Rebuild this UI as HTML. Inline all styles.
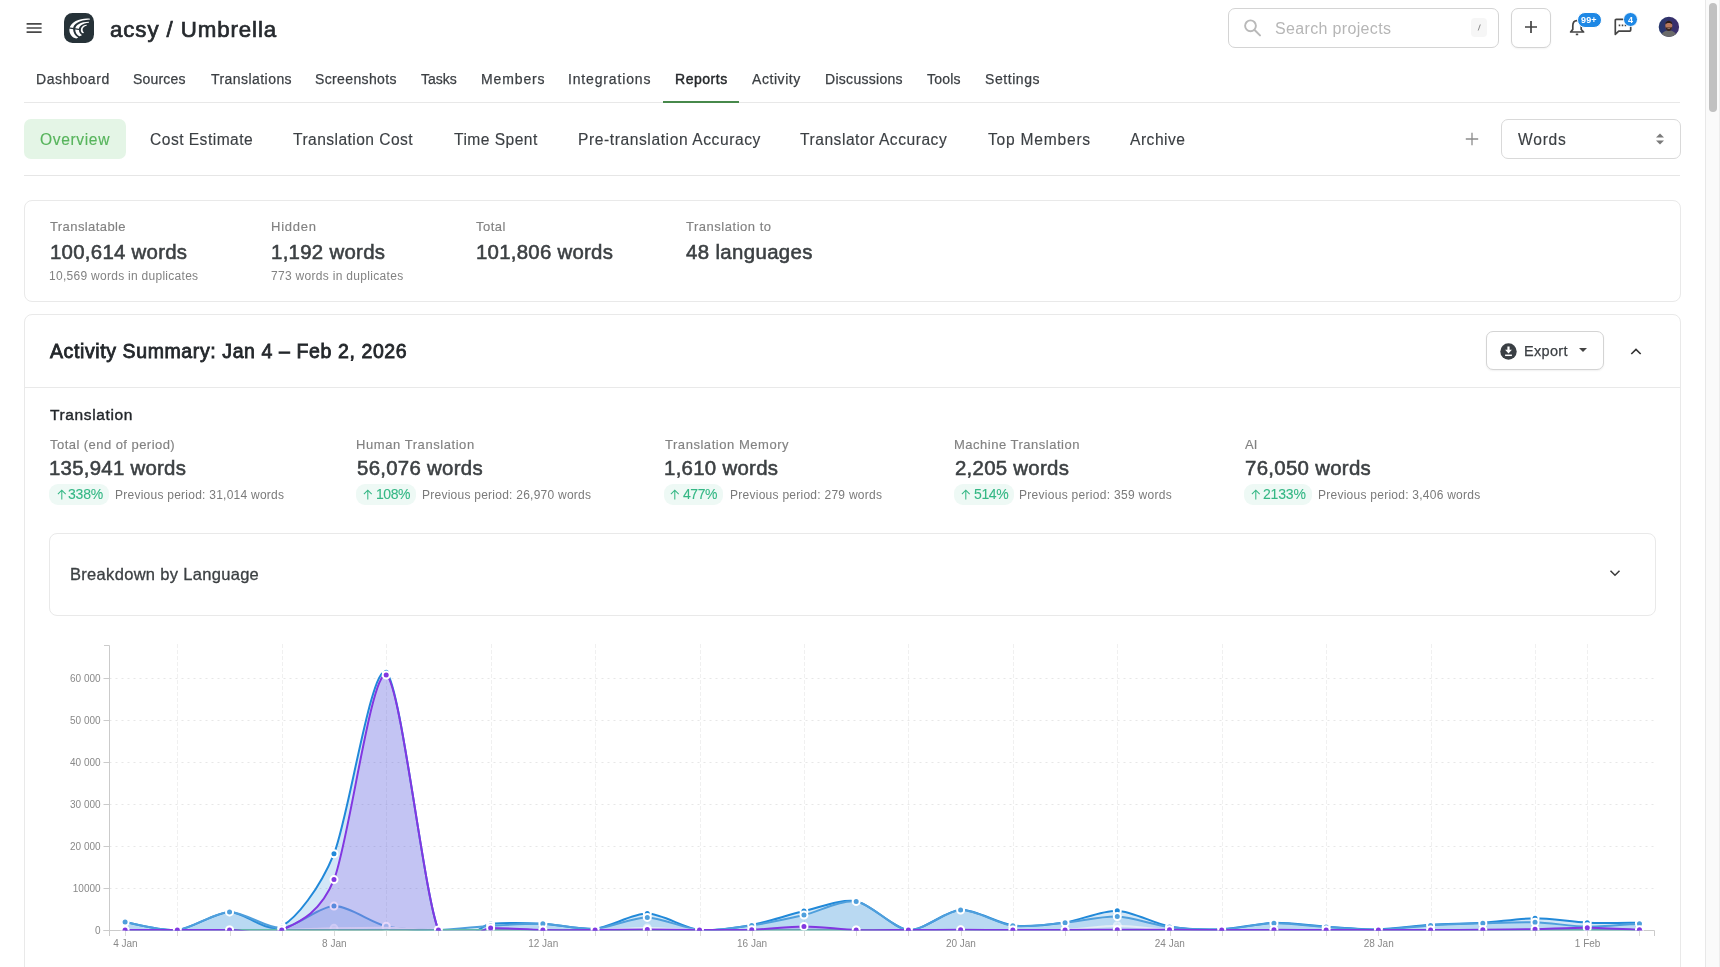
<!DOCTYPE html>
<html><head><meta charset="utf-8"><title>Reports</title>
<style>
html,body{margin:0;padding:0;}
body{width:1720px;height:967px;overflow:hidden;background:#fff;position:relative;font-family:"Liberation Sans",sans-serif;}
.t{position:absolute;white-space:nowrap;line-height:1;font-family:"Liberation Sans",sans-serif;will-change:transform;}
.abs{position:absolute;box-sizing:border-box;}
.card{position:absolute;box-sizing:border-box;border:1px solid #e9e9e9;border-radius:8px;background:#fff;}
.hl{position:absolute;height:1px;background:#e6e6e6;}
.badge{position:absolute;box-sizing:border-box;height:20.6px;border-radius:9px;background:#eef9f5;}
svg{position:absolute;overflow:visible;}
</style></head>
<body>
<div class="abs" style="left:1705px;top:0;width:15px;height:967px;background:#fafafa;border-left:1px solid #e8e8e8;border-right:1px solid #ededed"></div>
<div class="abs" style="left:1709px;top:3px;width:8px;height:109px;border-radius:4px;background:#c1c1c1"></div>
<svg style="left:26px;top:22px" width="17" height="12" viewBox="0 0 17 12"><path d="M0.6,1.8H15.6M0.6,5.95H15.6M0.6,10.1H15.6" stroke="#484848" stroke-width="1.65" fill="none"/></svg>
<svg style="left:64px;top:13px" width="30" height="30" viewBox="0 0 30 30"><rect width="30" height="30" rx="8.5" fill="#263238"/><path d="M26,5.7 C17,4.8 7,8.2 5.4,15.5 C4.8,20.5 8.2,25.2 12.3,25.4 C13.2,25.4 13.8,25.1 14.2,24.6 C11,22.6 9.1,19.6 9.1,16 C9.1,11.2 14.8,7.2 26,6.5 Z" fill="#fff"/><path d="M24.9,8.7 C17,8.6 11.2,11.8 11.2,16.2 C11.2,19.2 12.8,22 15.2,23.2 C16.3,23.3 17.4,22.8 17.9,22.1 C16,20.8 14.9,18.8 14.9,16.5 C14.9,13 18.5,10.5 24.9,9.8 Z" fill="#fff"/><path d="M22.8,11.8 C19,12 16.8,14.4 16.8,17.2 C16.8,18.8 17.8,20 19.1,20.3 C19.6,20.2 19.9,19.8 19.9,19.4 C19,18.8 18.6,17.7 18.6,16.5 C18.6,14.8 20,13.3 22.8,12.4 Z" fill="#fff"/><path d="M4.6,14.9 L16.4,16.6" stroke="#263238" stroke-width="1.2" fill="none"/></svg>
<div class="abs" style="left:1228px;top:8px;width:271px;height:40px;border:1px solid #d4d4d4;border-radius:7px;background:#fff"></div>
<svg style="left:1243px;top:18px" width="20" height="20" viewBox="0 0 20 20"><circle cx="7.5" cy="7.8" r="5.4" fill="none" stroke="#b9b9b9" stroke-width="1.9"/><path d="M11.6,12 L17,17.4" stroke="#b9b9b9" stroke-width="2" stroke-linecap="round"/></svg>
<div class="abs" style="left:1471px;top:18px;width:16px;height:19px;border-radius:4px;background:#f6f6f6"></div>
<svg style="left:1471px;top:18px" width="16" height="19"><path d="M9.3,6.5 L7.2,12.5" stroke="#808080" stroke-width="0.9"/></svg>
<div class="abs" style="left:1511px;top:8px;width:40px;height:40px;border:1px solid #d4d4d4;border-radius:7px;background:#fff;box-shadow:0 1px 2px rgba(0,0,0,0.05)"></div>
<svg style="left:1524px;top:20px" width="14" height="14"><path d="M7,1V13M1,7H13" stroke="#444" stroke-width="1.7"/></svg>
<svg style="left:1567px;top:15px" width="24" height="24" viewBox="0 0 24 24"><path d="M3.6,17 H16.6 L14.2,14.4 V10.8 C14.2,7.6 12.2,5.6 9.9,5.6 C7.6,5.6 5.8,7.6 5.8,10.8 V14.4 Z" fill="none" stroke="#444" stroke-width="1.7" stroke-linejoin="round"/><path d="M8.8,19.4 H11.2" stroke="#444" stroke-width="1.7"/></svg>
<div class="abs" style="left:1577px;top:12px;width:24.5px;height:16px;border-radius:8px;background:#1e88e5;border:1px solid #fff"></div>
<div class="t" style="left:1580.8px;top:15.9px;font-size:9px;font-weight:bold;color:#fff;letter-spacing:0.15px">99+</div>
<svg style="left:1613px;top:17px" width="22" height="22" viewBox="0 0 22 22"><path d="M2.3,17.3 V3.4 Q2.3,2.4 3.3,2.4 H16.7 Q17.7,2.4 17.7,3.4 V13.1 Q17.7,14.1 16.7,14.1 H5.7 Z" fill="none" stroke="#444" stroke-width="1.7" stroke-linejoin="round"/><path d="M5.7,8.4H7.3M8.7,8.4H10.3M11.7,8.4H13.3" stroke="#444" stroke-width="1.6"/></svg>
<div class="abs" style="left:1623px;top:12px;width:15px;height:15px;border-radius:8px;background:#1e88e5;border:1px solid #fff"></div>
<div class="t" style="left:1627.9px;top:15.7px;font-size:9px;font-weight:bold;color:#fff">4</div>
<svg style="left:1658px;top:16px" width="22" height="22" viewBox="0 0 22 22"><defs><clipPath id="av"><circle cx="10.9" cy="10.9" r="10.2"/></clipPath><linearGradient id="avg" x1="0" y1="0" x2="1" y2="0"><stop offset="0" stop-color="#26386c"/><stop offset="1" stop-color="#3f2d6c"/></linearGradient></defs><g clip-path="url(#av)"><rect width="22" height="22" fill="url(#avg)"/><path d="M2.5,22 C3,16.5 7,14.6 10.8,14.6 C14.6,14.6 18.6,16.5 19.2,22 Z" fill="#6a6a6a"/><ellipse cx="10.8" cy="9.6" rx="3.5" ry="4.6" fill="#b9785c"/><path d="M7.3,8.6 C7,3.6 14.6,3.6 14.3,8.6 C13.4,6.4 8.2,6.4 7.3,8.6Z" fill="#2b1c18"/><path d="M7.4,10.4 C7.6,16.4 14,16.4 14.2,10.4 C13.2,12.2 12.2,11.4 10.8,11.4 C9.4,11.4 8.4,12.2 7.4,10.4Z" fill="#3a2620"/><path d="M9.5,12.5 H12.1" stroke="#c9a08c" stroke-width="0.6"/></g></svg>
<div class="hl" style="left:24px;top:102px;width:1656px;background:#e8e8e8"></div>
<div class="abs" style="left:663px;top:101px;width:76px;height:2px;background:#47894b"></div>
<div class="abs" style="left:24px;top:119px;width:102px;height:39.5px;border-radius:7px;background:#e4f5e6"></div>
<svg style="left:1465px;top:132px" width="14" height="14"><path d="M7,0.8V13.2M0.8,7H13.2" stroke="#8c8c8c" stroke-width="1.3"/></svg>
<div class="abs" style="left:1501px;top:119px;width:180px;height:40px;border:1px solid #d9d9d9;border-radius:7px;background:#fff"></div>
<svg style="left:1655px;top:133px" width="10" height="12"><path d="M1,4.4 L5,0.6 L9,4.4Z M1,7.6 L5,11.4 L9,7.6Z" fill="#7a7a7a"/></svg>
<div class="hl" style="left:24px;top:175px;width:1656px;background:#e6e6e6"></div>
<div class="card" style="left:24px;top:200px;width:1657px;height:102px"></div>
<div class="card" style="left:24px;top:314px;width:1657px;height:700px"></div>
<div class="hl" style="left:25px;top:387px;width:1655px;background:#e9e9e9"></div>
<div class="abs" style="left:1486px;top:331px;width:118px;height:39px;border:1px solid #d4d4d4;border-radius:7px;background:#fff;box-shadow:0 1px 2px rgba(0,0,0,0.06)"></div>
<svg style="left:1500px;top:342.5px" width="17" height="17" viewBox="0 0 17 17"><circle cx="8.5" cy="8.5" r="8.2" fill="#3a3f44"/><path d="M7.4,3.6 H9.6 V6.8 H11.9 L8.5,10.4 L5.1,6.8 H7.4 Z" fill="#fff"/><path d="M5.1,12.3 H11.9" stroke="#fff" stroke-width="1.5"/></svg>
<svg style="left:1578.8px;top:348.3px" width="9" height="5"><path d="M0,0H8L4,4.1Z" fill="#444"/></svg>
<svg style="left:1630.3px;top:346.8px" width="12" height="9"><path d="M1.3,7 L6,2.4 L10.7,7" stroke="#333" stroke-width="1.6" fill="none"/></svg>
<div class="badge" style="left:49.20px;top:484.2px;width:59.55px"></div>
<svg style="left:56.60px;top:489px" width="10" height="11"><path d="M4.8,10.4 V1.4 M0.9,5.2 L4.8,1.2 L8.7,5.2" stroke="#35b785" stroke-width="1.05" fill="none"/></svg>
<div class="badge" style="left:356.45px;top:484.2px;width:59.30px"></div>
<svg style="left:363.35px;top:489px" width="10" height="11"><path d="M4.8,10.4 V1.4 M0.9,5.2 L4.8,1.2 L8.7,5.2" stroke="#35b785" stroke-width="1.05" fill="none"/></svg>
<div class="badge" style="left:663.95px;top:484.2px;width:59.05px"></div>
<svg style="left:670.35px;top:489px" width="10" height="11"><path d="M4.8,10.4 V1.4 M0.9,5.2 L4.8,1.2 L8.7,5.2" stroke="#35b785" stroke-width="1.05" fill="none"/></svg>
<div class="badge" style="left:954.20px;top:484.2px;width:59.55px"></div>
<svg style="left:961.35px;top:489px" width="10" height="11"><path d="M4.8,10.4 V1.4 M0.9,5.2 L4.8,1.2 L8.7,5.2" stroke="#35b785" stroke-width="1.05" fill="none"/></svg>
<div class="badge" style="left:1244.20px;top:484.2px;width:67.80px"></div>
<svg style="left:1251.35px;top:489px" width="10" height="11"><path d="M4.8,10.4 V1.4 M0.9,5.2 L4.8,1.2 L8.7,5.2" stroke="#35b785" stroke-width="1.05" fill="none"/></svg>
<div class="card" style="left:49px;top:533px;width:1607px;height:83px;border-color:#e9e9e9"></div>
<svg style="left:1609px;top:569px" width="12" height="9"><path d="M1.5,1.8 L6,6.2 L10.5,1.8" stroke="#3a3a3a" stroke-width="1.55" fill="none"/></svg>
<svg class="chart" width="1720" height="967" viewBox="0 0 1720 967" style="position:absolute;left:0;top:0;pointer-events:none">
<defs><clipPath id="plot"><rect x="104.5" y="635.0" width="1555.0" height="295.6"/></clipPath></defs>
<line x1="109.5" y1="888.5" x2="1654.5" y2="888.5" stroke="#e7e7e7" stroke-width="1" stroke-dasharray="2,4"/>
<line x1="109.5" y1="846.5" x2="1654.5" y2="846.5" stroke="#e7e7e7" stroke-width="1" stroke-dasharray="2,4"/>
<line x1="109.5" y1="804.5" x2="1654.5" y2="804.5" stroke="#e7e7e7" stroke-width="1" stroke-dasharray="2,4"/>
<line x1="109.5" y1="762.5" x2="1654.5" y2="762.5" stroke="#e7e7e7" stroke-width="1" stroke-dasharray="2,4"/>
<line x1="109.5" y1="720.5" x2="1654.5" y2="720.5" stroke="#e7e7e7" stroke-width="1" stroke-dasharray="2,4"/>
<line x1="109.5" y1="678.5" x2="1654.5" y2="678.5" stroke="#e7e7e7" stroke-width="1" stroke-dasharray="2,4"/>
<line x1="177.5" y1="644.0" x2="177.5" y2="930.5" stroke="#f0f0f0" stroke-width="1" stroke-dasharray="4,2"/>
<line x1="282.5" y1="644.0" x2="282.5" y2="930.5" stroke="#f0f0f0" stroke-width="1" stroke-dasharray="4,2"/>
<line x1="386.5" y1="644.0" x2="386.5" y2="930.5" stroke="#f0f0f0" stroke-width="1" stroke-dasharray="4,2"/>
<line x1="491.5" y1="644.0" x2="491.5" y2="930.5" stroke="#f0f0f0" stroke-width="1" stroke-dasharray="4,2"/>
<line x1="595.5" y1="644.0" x2="595.5" y2="930.5" stroke="#f0f0f0" stroke-width="1" stroke-dasharray="4,2"/>
<line x1="700.5" y1="644.0" x2="700.5" y2="930.5" stroke="#f0f0f0" stroke-width="1" stroke-dasharray="4,2"/>
<line x1="804.5" y1="644.0" x2="804.5" y2="930.5" stroke="#f0f0f0" stroke-width="1" stroke-dasharray="4,2"/>
<line x1="908.5" y1="644.0" x2="908.5" y2="930.5" stroke="#f0f0f0" stroke-width="1" stroke-dasharray="4,2"/>
<line x1="1013.5" y1="644.0" x2="1013.5" y2="930.5" stroke="#f0f0f0" stroke-width="1" stroke-dasharray="4,2"/>
<line x1="1117.5" y1="644.0" x2="1117.5" y2="930.5" stroke="#f0f0f0" stroke-width="1" stroke-dasharray="4,2"/>
<line x1="1222.5" y1="644.0" x2="1222.5" y2="930.5" stroke="#f0f0f0" stroke-width="1" stroke-dasharray="4,2"/>
<line x1="1326.5" y1="644.0" x2="1326.5" y2="930.5" stroke="#f0f0f0" stroke-width="1" stroke-dasharray="4,2"/>
<line x1="1431.5" y1="644.0" x2="1431.5" y2="930.5" stroke="#f0f0f0" stroke-width="1" stroke-dasharray="4,2"/>
<line x1="1535.5" y1="644.0" x2="1535.5" y2="930.5" stroke="#f0f0f0" stroke-width="1" stroke-dasharray="4,2"/>
<line x1="1587.5" y1="644.0" x2="1587.5" y2="930.5" stroke="#f0f0f0" stroke-width="1" stroke-dasharray="4,2"/>
<path d="M104,645.5 H109.5 V936" fill="none" stroke="#cbcbcb" stroke-width="1"/>
<line x1="103.5" y1="930.5" x2="109.5" y2="930.5" stroke="#cbcbcb"/>
<line x1="103.5" y1="888.5" x2="109.5" y2="888.5" stroke="#cbcbcb"/>
<line x1="103.5" y1="846.5" x2="109.5" y2="846.5" stroke="#cbcbcb"/>
<line x1="103.5" y1="804.5" x2="109.5" y2="804.5" stroke="#cbcbcb"/>
<line x1="103.5" y1="762.5" x2="109.5" y2="762.5" stroke="#cbcbcb"/>
<line x1="103.5" y1="720.5" x2="109.5" y2="720.5" stroke="#cbcbcb"/>
<line x1="103.5" y1="678.5" x2="109.5" y2="678.5" stroke="#cbcbcb"/>
<path d="M103.5,930.5 H1654.5 V936" fill="none" stroke="#cbcbcb" stroke-width="1"/>
<line x1="125.5" y1="930.5" x2="125.5" y2="936" stroke="#dbdbdb"/>
<line x1="177.5" y1="930.5" x2="177.5" y2="936" stroke="#dbdbdb"/>
<line x1="230.5" y1="930.5" x2="230.5" y2="936" stroke="#dbdbdb"/>
<line x1="282.5" y1="930.5" x2="282.5" y2="936" stroke="#dbdbdb"/>
<line x1="334.5" y1="930.5" x2="334.5" y2="936" stroke="#dbdbdb"/>
<line x1="386.5" y1="930.5" x2="386.5" y2="936" stroke="#dbdbdb"/>
<line x1="438.5" y1="930.5" x2="438.5" y2="936" stroke="#dbdbdb"/>
<line x1="491.5" y1="930.5" x2="491.5" y2="936" stroke="#dbdbdb"/>
<line x1="543.5" y1="930.5" x2="543.5" y2="936" stroke="#dbdbdb"/>
<line x1="595.5" y1="930.5" x2="595.5" y2="936" stroke="#dbdbdb"/>
<line x1="647.5" y1="930.5" x2="647.5" y2="936" stroke="#dbdbdb"/>
<line x1="700.5" y1="930.5" x2="700.5" y2="936" stroke="#dbdbdb"/>
<line x1="752.5" y1="930.5" x2="752.5" y2="936" stroke="#dbdbdb"/>
<line x1="804.5" y1="930.5" x2="804.5" y2="936" stroke="#dbdbdb"/>
<line x1="856.5" y1="930.5" x2="856.5" y2="936" stroke="#dbdbdb"/>
<line x1="908.5" y1="930.5" x2="908.5" y2="936" stroke="#dbdbdb"/>
<line x1="961.5" y1="930.5" x2="961.5" y2="936" stroke="#dbdbdb"/>
<line x1="1013.5" y1="930.5" x2="1013.5" y2="936" stroke="#dbdbdb"/>
<line x1="1065.5" y1="930.5" x2="1065.5" y2="936" stroke="#dbdbdb"/>
<line x1="1117.5" y1="930.5" x2="1117.5" y2="936" stroke="#dbdbdb"/>
<line x1="1170.5" y1="930.5" x2="1170.5" y2="936" stroke="#dbdbdb"/>
<line x1="1222.5" y1="930.5" x2="1222.5" y2="936" stroke="#dbdbdb"/>
<line x1="1274.5" y1="930.5" x2="1274.5" y2="936" stroke="#dbdbdb"/>
<line x1="1326.5" y1="930.5" x2="1326.5" y2="936" stroke="#dbdbdb"/>
<line x1="1378.5" y1="930.5" x2="1378.5" y2="936" stroke="#dbdbdb"/>
<line x1="1431.5" y1="930.5" x2="1431.5" y2="936" stroke="#dbdbdb"/>
<line x1="1483.5" y1="930.5" x2="1483.5" y2="936" stroke="#dbdbdb"/>
<line x1="1535.5" y1="930.5" x2="1535.5" y2="936" stroke="#dbdbdb"/>
<line x1="1587.5" y1="930.5" x2="1587.5" y2="936" stroke="#dbdbdb"/>
<line x1="1639.5" y1="930.5" x2="1639.5" y2="936" stroke="#dbdbdb"/>
<g font-family="Liberation Sans, sans-serif" font-size="10" fill="#898989">
<text x="100.6" y="934.0" text-anchor="end">0</text>
<text x="100.6" y="892.0" text-anchor="end">10000</text>
<text x="100.6" y="850.0" text-anchor="end">20 000</text>
<text x="100.6" y="808.0" text-anchor="end">30 000</text>
<text x="100.6" y="766.0" text-anchor="end">40 000</text>
<text x="100.6" y="724.0" text-anchor="end">50 000</text>
<text x="100.6" y="682.0" text-anchor="end">60 000</text>
<text x="125.4" y="947" text-anchor="middle">4 Jan</text>
<text x="334.3" y="947" text-anchor="middle">8 Jan</text>
<text x="543.2" y="947" text-anchor="middle">12 Jan</text>
<text x="752.0" y="947" text-anchor="middle">16 Jan</text>
<text x="960.9" y="947" text-anchor="middle">20 Jan</text>
<text x="1169.8" y="947" text-anchor="middle">24 Jan</text>
<text x="1378.7" y="947" text-anchor="middle">28 Jan</text>
<text x="1587.6" y="947" text-anchor="middle">1 Feb</text>
</g>
<g clip-path="url(#plot)">
<path d="M125.10,922.02 C132.41,923.14 162.70,931.41 177.32,930.00 C191.94,928.59 214.92,912.47 229.54,911.94 C244.16,911.41 267.14,934.36 281.76,926.22 C296.38,918.08 319.36,889.31 333.98,853.77 C348.60,818.23 371.58,661.66 386.20,672.33 C400.82,683.00 423.80,894.81 438.42,930.00 C453.04,965.19 476.02,924.58 490.64,923.70 C505.26,922.82 528.24,922.99 542.86,923.70 C557.48,924.41 580.46,930.15 595.08,928.74 C609.70,927.33 632.68,913.44 647.30,913.62 C661.92,913.80 684.90,928.41 699.52,930.00 C714.14,931.59 737.12,927.61 751.74,924.96 C766.36,922.31 789.34,914.42 803.96,911.10 C818.58,907.78 841.56,898.58 856.18,901.23 C870.80,903.88 893.78,928.79 908.40,930.00 C923.02,931.21 946.00,910.49 960.62,909.84 C975.24,909.19 998.22,923.62 1012.84,925.38 C1027.46,927.14 1050.44,924.50 1065.06,922.44 C1079.68,920.38 1102.66,910.12 1117.28,910.68 C1131.90,911.24 1154.88,923.84 1169.50,926.43 C1184.12,929.02 1207.10,929.66 1221.72,929.16 C1236.34,928.66 1259.32,923.21 1273.94,922.86 C1288.56,922.51 1311.54,925.73 1326.16,926.64 C1340.78,927.55 1363.76,929.63 1378.38,929.37 C1393.00,929.11 1415.98,925.66 1430.60,924.75 C1445.22,923.84 1468.20,923.77 1482.82,922.86 C1497.44,921.95 1520.42,918.27 1535.04,918.24 C1549.66,918.21 1572.64,922.03 1587.26,922.65 C1601.88,923.27 1632.17,922.65 1639.48,922.65 L1639.48,930.00 L125.10,930.00 Z" fill="#2189d9" fill-opacity="0.2" stroke="none"/>
<path d="M125.10,922.02 C132.41,923.14 162.70,931.41 177.32,930.00 C191.94,928.59 214.92,912.47 229.54,911.94 C244.16,911.41 267.14,934.36 281.76,926.22 C296.38,918.08 319.36,889.31 333.98,853.77 C348.60,818.23 371.58,661.66 386.20,672.33 C400.82,683.00 423.80,894.81 438.42,930.00 C453.04,965.19 476.02,924.58 490.64,923.70 C505.26,922.82 528.24,922.99 542.86,923.70 C557.48,924.41 580.46,930.15 595.08,928.74 C609.70,927.33 632.68,913.44 647.30,913.62 C661.92,913.80 684.90,928.41 699.52,930.00 C714.14,931.59 737.12,927.61 751.74,924.96 C766.36,922.31 789.34,914.42 803.96,911.10 C818.58,907.78 841.56,898.58 856.18,901.23 C870.80,903.88 893.78,928.79 908.40,930.00 C923.02,931.21 946.00,910.49 960.62,909.84 C975.24,909.19 998.22,923.62 1012.84,925.38 C1027.46,927.14 1050.44,924.50 1065.06,922.44 C1079.68,920.38 1102.66,910.12 1117.28,910.68 C1131.90,911.24 1154.88,923.84 1169.50,926.43 C1184.12,929.02 1207.10,929.66 1221.72,929.16 C1236.34,928.66 1259.32,923.21 1273.94,922.86 C1288.56,922.51 1311.54,925.73 1326.16,926.64 C1340.78,927.55 1363.76,929.63 1378.38,929.37 C1393.00,929.11 1415.98,925.66 1430.60,924.75 C1445.22,923.84 1468.20,923.77 1482.82,922.86 C1497.44,921.95 1520.42,918.27 1535.04,918.24 C1549.66,918.21 1572.64,922.03 1587.26,922.65 C1601.88,923.27 1632.17,922.65 1639.48,922.65" fill="none" stroke="#2189d9" stroke-width="2" stroke-linejoin="round"/>
<circle cx="125.10" cy="922.02" r="3.5" fill="#2189d9" stroke="#fff" stroke-width="2"/>
<circle cx="177.32" cy="930.00" r="3.5" fill="#2189d9" stroke="#fff" stroke-width="2"/>
<circle cx="229.54" cy="911.94" r="3.5" fill="#2189d9" stroke="#fff" stroke-width="2"/>
<circle cx="281.76" cy="926.22" r="3.5" fill="#2189d9" stroke="#fff" stroke-width="2"/>
<circle cx="333.98" cy="853.77" r="3.5" fill="#2189d9" stroke="#fff" stroke-width="2"/>
<circle cx="386.20" cy="672.33" r="3.5" fill="#2189d9" stroke="#fff" stroke-width="2"/>
<circle cx="438.42" cy="930.00" r="3.5" fill="#2189d9" stroke="#fff" stroke-width="2"/>
<circle cx="490.64" cy="923.70" r="3.5" fill="#2189d9" stroke="#fff" stroke-width="2"/>
<circle cx="542.86" cy="923.70" r="3.5" fill="#2189d9" stroke="#fff" stroke-width="2"/>
<circle cx="595.08" cy="928.74" r="3.5" fill="#2189d9" stroke="#fff" stroke-width="2"/>
<circle cx="647.30" cy="913.62" r="3.5" fill="#2189d9" stroke="#fff" stroke-width="2"/>
<circle cx="699.52" cy="930.00" r="3.5" fill="#2189d9" stroke="#fff" stroke-width="2"/>
<circle cx="751.74" cy="924.96" r="3.5" fill="#2189d9" stroke="#fff" stroke-width="2"/>
<circle cx="803.96" cy="911.10" r="3.5" fill="#2189d9" stroke="#fff" stroke-width="2"/>
<circle cx="856.18" cy="901.23" r="3.5" fill="#2189d9" stroke="#fff" stroke-width="2"/>
<circle cx="908.40" cy="930.00" r="3.5" fill="#2189d9" stroke="#fff" stroke-width="2"/>
<circle cx="960.62" cy="909.84" r="3.5" fill="#2189d9" stroke="#fff" stroke-width="2"/>
<circle cx="1012.84" cy="925.38" r="3.5" fill="#2189d9" stroke="#fff" stroke-width="2"/>
<circle cx="1065.06" cy="922.44" r="3.5" fill="#2189d9" stroke="#fff" stroke-width="2"/>
<circle cx="1117.28" cy="910.68" r="3.5" fill="#2189d9" stroke="#fff" stroke-width="2"/>
<circle cx="1169.50" cy="926.43" r="3.5" fill="#2189d9" stroke="#fff" stroke-width="2"/>
<circle cx="1221.72" cy="929.16" r="3.5" fill="#2189d9" stroke="#fff" stroke-width="2"/>
<circle cx="1273.94" cy="922.86" r="3.5" fill="#2189d9" stroke="#fff" stroke-width="2"/>
<circle cx="1326.16" cy="926.64" r="3.5" fill="#2189d9" stroke="#fff" stroke-width="2"/>
<circle cx="1378.38" cy="929.37" r="3.5" fill="#2189d9" stroke="#fff" stroke-width="2"/>
<circle cx="1430.60" cy="924.75" r="3.5" fill="#2189d9" stroke="#fff" stroke-width="2"/>
<circle cx="1482.82" cy="922.86" r="3.5" fill="#2189d9" stroke="#fff" stroke-width="2"/>
<circle cx="1535.04" cy="918.24" r="3.5" fill="#2189d9" stroke="#fff" stroke-width="2"/>
<circle cx="1587.26" cy="922.65" r="3.5" fill="#2189d9" stroke="#fff" stroke-width="2"/>
<circle cx="1639.48" cy="922.65" r="3.5" fill="#2189d9" stroke="#fff" stroke-width="2"/>
<path d="M125.10,922.02 C132.41,923.14 162.70,931.41 177.32,930.00 C191.94,928.59 214.92,912.20 229.54,911.94 C244.16,911.68 267.14,928.93 281.76,928.11 C296.38,927.29 319.36,906.32 333.98,906.06 C348.60,905.80 371.58,922.87 386.20,926.22 C400.82,929.57 423.80,930.06 438.42,930.00 C453.04,929.94 476.02,926.67 490.64,925.80 C505.26,924.93 528.24,923.37 542.86,923.78 C557.48,924.20 580.46,929.63 595.08,928.74 C609.70,927.85 632.68,917.22 647.30,917.40 C661.92,917.58 684.90,928.88 699.52,930.00 C714.14,931.12 737.12,927.47 751.74,925.38 C766.36,923.29 789.34,918.44 803.96,915.09 C818.58,911.74 841.56,899.35 856.18,901.44 C870.80,903.53 893.78,928.79 908.40,930.00 C923.02,931.21 946.00,910.64 960.62,910.05 C975.24,909.46 998.22,924.04 1012.84,925.80 C1027.46,927.56 1050.44,923.94 1065.06,922.65 C1079.68,921.36 1102.66,915.94 1117.28,916.56 C1131.90,917.18 1154.88,925.27 1169.50,927.06 C1184.12,928.85 1207.10,929.90 1221.72,929.37 C1236.34,928.84 1259.32,923.60 1273.94,923.28 C1288.56,922.96 1311.54,926.18 1326.16,927.06 C1340.78,927.94 1363.76,929.82 1378.38,929.58 C1393.00,929.34 1415.98,926.26 1430.60,925.38 C1445.22,924.50 1468.20,923.72 1482.82,923.28 C1497.44,922.84 1520.42,921.76 1535.04,922.23 C1549.66,922.70 1572.64,926.43 1587.26,926.64 C1601.88,926.85 1632.17,924.11 1639.48,923.70 L1639.48,930.00 L125.10,930.00 Z" fill="#4f9fdc" fill-opacity="0.2" stroke="none"/>
<path d="M125.10,922.02 C132.41,923.14 162.70,931.41 177.32,930.00 C191.94,928.59 214.92,912.20 229.54,911.94 C244.16,911.68 267.14,928.93 281.76,928.11 C296.38,927.29 319.36,906.32 333.98,906.06 C348.60,905.80 371.58,922.87 386.20,926.22 C400.82,929.57 423.80,930.06 438.42,930.00 C453.04,929.94 476.02,926.67 490.64,925.80 C505.26,924.93 528.24,923.37 542.86,923.78 C557.48,924.20 580.46,929.63 595.08,928.74 C609.70,927.85 632.68,917.22 647.30,917.40 C661.92,917.58 684.90,928.88 699.52,930.00 C714.14,931.12 737.12,927.47 751.74,925.38 C766.36,923.29 789.34,918.44 803.96,915.09 C818.58,911.74 841.56,899.35 856.18,901.44 C870.80,903.53 893.78,928.79 908.40,930.00 C923.02,931.21 946.00,910.64 960.62,910.05 C975.24,909.46 998.22,924.04 1012.84,925.80 C1027.46,927.56 1050.44,923.94 1065.06,922.65 C1079.68,921.36 1102.66,915.94 1117.28,916.56 C1131.90,917.18 1154.88,925.27 1169.50,927.06 C1184.12,928.85 1207.10,929.90 1221.72,929.37 C1236.34,928.84 1259.32,923.60 1273.94,923.28 C1288.56,922.96 1311.54,926.18 1326.16,927.06 C1340.78,927.94 1363.76,929.82 1378.38,929.58 C1393.00,929.34 1415.98,926.26 1430.60,925.38 C1445.22,924.50 1468.20,923.72 1482.82,923.28 C1497.44,922.84 1520.42,921.76 1535.04,922.23 C1549.66,922.70 1572.64,926.43 1587.26,926.64 C1601.88,926.85 1632.17,924.11 1639.48,923.70" fill="none" stroke="#4f9fdc" stroke-width="2" stroke-linejoin="round"/>
<circle cx="125.10" cy="922.02" r="3.5" fill="#4f9fdc" stroke="#fff" stroke-width="2"/>
<circle cx="177.32" cy="930.00" r="3.5" fill="#4f9fdc" stroke="#fff" stroke-width="2"/>
<circle cx="229.54" cy="911.94" r="3.5" fill="#4f9fdc" stroke="#fff" stroke-width="2"/>
<circle cx="281.76" cy="928.11" r="3.5" fill="#4f9fdc" stroke="#fff" stroke-width="2"/>
<circle cx="333.98" cy="906.06" r="3.5" fill="#4f9fdc" stroke="#fff" stroke-width="2"/>
<circle cx="386.20" cy="926.22" r="3.5" fill="#4f9fdc" stroke="#fff" stroke-width="2"/>
<circle cx="438.42" cy="930.00" r="3.5" fill="#4f9fdc" stroke="#fff" stroke-width="2"/>
<circle cx="490.64" cy="925.80" r="3.5" fill="#4f9fdc" stroke="#fff" stroke-width="2"/>
<circle cx="542.86" cy="923.78" r="3.5" fill="#4f9fdc" stroke="#fff" stroke-width="2"/>
<circle cx="595.08" cy="928.74" r="3.5" fill="#4f9fdc" stroke="#fff" stroke-width="2"/>
<circle cx="647.30" cy="917.40" r="3.5" fill="#4f9fdc" stroke="#fff" stroke-width="2"/>
<circle cx="699.52" cy="930.00" r="3.5" fill="#4f9fdc" stroke="#fff" stroke-width="2"/>
<circle cx="751.74" cy="925.38" r="3.5" fill="#4f9fdc" stroke="#fff" stroke-width="2"/>
<circle cx="803.96" cy="915.09" r="3.5" fill="#4f9fdc" stroke="#fff" stroke-width="2"/>
<circle cx="856.18" cy="901.44" r="3.5" fill="#4f9fdc" stroke="#fff" stroke-width="2"/>
<circle cx="908.40" cy="930.00" r="3.5" fill="#4f9fdc" stroke="#fff" stroke-width="2"/>
<circle cx="960.62" cy="910.05" r="3.5" fill="#4f9fdc" stroke="#fff" stroke-width="2"/>
<circle cx="1012.84" cy="925.80" r="3.5" fill="#4f9fdc" stroke="#fff" stroke-width="2"/>
<circle cx="1065.06" cy="922.65" r="3.5" fill="#4f9fdc" stroke="#fff" stroke-width="2"/>
<circle cx="1117.28" cy="916.56" r="3.5" fill="#4f9fdc" stroke="#fff" stroke-width="2"/>
<circle cx="1169.50" cy="927.06" r="3.5" fill="#4f9fdc" stroke="#fff" stroke-width="2"/>
<circle cx="1221.72" cy="929.37" r="3.5" fill="#4f9fdc" stroke="#fff" stroke-width="2"/>
<circle cx="1273.94" cy="923.28" r="3.5" fill="#4f9fdc" stroke="#fff" stroke-width="2"/>
<circle cx="1326.16" cy="927.06" r="3.5" fill="#4f9fdc" stroke="#fff" stroke-width="2"/>
<circle cx="1378.38" cy="929.58" r="3.5" fill="#4f9fdc" stroke="#fff" stroke-width="2"/>
<circle cx="1430.60" cy="925.38" r="3.5" fill="#4f9fdc" stroke="#fff" stroke-width="2"/>
<circle cx="1482.82" cy="923.28" r="3.5" fill="#4f9fdc" stroke="#fff" stroke-width="2"/>
<circle cx="1535.04" cy="922.23" r="3.5" fill="#4f9fdc" stroke="#fff" stroke-width="2"/>
<circle cx="1587.26" cy="926.64" r="3.5" fill="#4f9fdc" stroke="#fff" stroke-width="2"/>
<circle cx="1639.48" cy="923.70" r="3.5" fill="#4f9fdc" stroke="#fff" stroke-width="2"/>
<path d="M125.10,930.00 C132.41,930.00 162.70,930.00 177.32,930.00 C191.94,930.00 214.92,930.00 229.54,930.00 C244.16,930.00 267.14,930.24 281.76,930.00 C296.38,929.76 319.36,928.64 333.98,928.32 C348.60,928.00 371.58,927.45 386.20,927.69 C400.82,927.93 423.80,929.68 438.42,930.00 C453.04,930.32 476.02,930.00 490.64,930.00 C505.26,930.00 528.24,930.00 542.86,930.00 C557.48,930.00 580.46,930.29 595.08,930.00 C609.70,929.71 632.68,927.90 647.30,927.90 C661.92,927.90 684.90,929.71 699.52,930.00 C714.14,930.29 737.12,930.00 751.74,930.00 C766.36,930.00 789.34,930.00 803.96,930.00 C818.58,930.00 841.56,930.00 856.18,930.00 C870.80,930.00 893.78,930.00 908.40,930.00 C923.02,930.00 946.00,930.00 960.62,930.00 C975.24,930.00 998.22,930.00 1012.84,930.00 C1027.46,930.00 1050.44,930.59 1065.06,930.00 C1079.68,929.41 1102.66,925.80 1117.28,925.80 C1131.90,925.80 1154.88,929.41 1169.50,930.00 C1184.12,930.59 1207.10,930.00 1221.72,930.00 C1236.34,930.00 1259.32,930.00 1273.94,930.00 C1288.56,930.00 1311.54,930.00 1326.16,930.00 C1340.78,930.00 1363.76,930.00 1378.38,930.00 C1393.00,930.00 1415.98,930.00 1430.60,930.00 C1445.22,930.00 1468.20,930.00 1482.82,930.00 C1497.44,930.00 1520.42,930.00 1535.04,930.00 C1549.66,930.00 1572.64,930.00 1587.26,930.00 C1601.88,930.00 1632.17,930.00 1639.48,930.00 L1639.48,930.00 L125.10,930.00 Z" fill="#e3edf6" fill-opacity="0.2" stroke="none"/>
<path d="M125.10,930.00 C132.41,930.00 162.70,930.00 177.32,930.00 C191.94,930.00 214.92,930.00 229.54,930.00 C244.16,930.00 267.14,930.24 281.76,930.00 C296.38,929.76 319.36,928.64 333.98,928.32 C348.60,928.00 371.58,927.45 386.20,927.69 C400.82,927.93 423.80,929.68 438.42,930.00 C453.04,930.32 476.02,930.00 490.64,930.00 C505.26,930.00 528.24,930.00 542.86,930.00 C557.48,930.00 580.46,930.29 595.08,930.00 C609.70,929.71 632.68,927.90 647.30,927.90 C661.92,927.90 684.90,929.71 699.52,930.00 C714.14,930.29 737.12,930.00 751.74,930.00 C766.36,930.00 789.34,930.00 803.96,930.00 C818.58,930.00 841.56,930.00 856.18,930.00 C870.80,930.00 893.78,930.00 908.40,930.00 C923.02,930.00 946.00,930.00 960.62,930.00 C975.24,930.00 998.22,930.00 1012.84,930.00 C1027.46,930.00 1050.44,930.59 1065.06,930.00 C1079.68,929.41 1102.66,925.80 1117.28,925.80 C1131.90,925.80 1154.88,929.41 1169.50,930.00 C1184.12,930.59 1207.10,930.00 1221.72,930.00 C1236.34,930.00 1259.32,930.00 1273.94,930.00 C1288.56,930.00 1311.54,930.00 1326.16,930.00 C1340.78,930.00 1363.76,930.00 1378.38,930.00 C1393.00,930.00 1415.98,930.00 1430.60,930.00 C1445.22,930.00 1468.20,930.00 1482.82,930.00 C1497.44,930.00 1520.42,930.00 1535.04,930.00 C1549.66,930.00 1572.64,930.00 1587.26,930.00 C1601.88,930.00 1632.17,930.00 1639.48,930.00" fill="none" stroke="#e3edf6" stroke-width="2" stroke-linejoin="round"/>
<circle cx="125.10" cy="930.00" r="3.5" fill="#e9f1f8" stroke="#fff" stroke-width="2" opacity="0.55"/>
<circle cx="177.32" cy="930.00" r="3.5" fill="#e9f1f8" stroke="#fff" stroke-width="2" opacity="0.55"/>
<circle cx="229.54" cy="930.00" r="3.5" fill="#e9f1f8" stroke="#fff" stroke-width="2" opacity="0.55"/>
<circle cx="281.76" cy="930.00" r="3.5" fill="#e9f1f8" stroke="#fff" stroke-width="2" opacity="0.55"/>
<circle cx="333.98" cy="928.32" r="3.5" fill="#e9f1f8" stroke="#fff" stroke-width="2" opacity="0.55"/>
<circle cx="386.20" cy="927.69" r="3.5" fill="#e9f1f8" stroke="#fff" stroke-width="2" opacity="0.55"/>
<circle cx="438.42" cy="930.00" r="3.5" fill="#e9f1f8" stroke="#fff" stroke-width="2" opacity="0.55"/>
<circle cx="490.64" cy="930.00" r="3.5" fill="#e9f1f8" stroke="#fff" stroke-width="2" opacity="0.55"/>
<circle cx="542.86" cy="930.00" r="3.5" fill="#e9f1f8" stroke="#fff" stroke-width="2" opacity="0.55"/>
<circle cx="595.08" cy="930.00" r="3.5" fill="#e9f1f8" stroke="#fff" stroke-width="2" opacity="0.55"/>
<circle cx="647.30" cy="927.90" r="3.5" fill="#e9f1f8" stroke="#fff" stroke-width="2" opacity="0.55"/>
<circle cx="699.52" cy="930.00" r="3.5" fill="#e9f1f8" stroke="#fff" stroke-width="2" opacity="0.55"/>
<circle cx="751.74" cy="930.00" r="3.5" fill="#e9f1f8" stroke="#fff" stroke-width="2" opacity="0.55"/>
<circle cx="803.96" cy="930.00" r="3.5" fill="#e9f1f8" stroke="#fff" stroke-width="2" opacity="0.55"/>
<circle cx="856.18" cy="930.00" r="3.5" fill="#e9f1f8" stroke="#fff" stroke-width="2" opacity="0.55"/>
<circle cx="908.40" cy="930.00" r="3.5" fill="#e9f1f8" stroke="#fff" stroke-width="2" opacity="0.55"/>
<circle cx="960.62" cy="930.00" r="3.5" fill="#e9f1f8" stroke="#fff" stroke-width="2" opacity="0.55"/>
<circle cx="1012.84" cy="930.00" r="3.5" fill="#e9f1f8" stroke="#fff" stroke-width="2" opacity="0.55"/>
<circle cx="1065.06" cy="930.00" r="3.5" fill="#e9f1f8" stroke="#fff" stroke-width="2" opacity="0.55"/>
<circle cx="1117.28" cy="925.80" r="3.5" fill="#e9f1f8" stroke="#fff" stroke-width="2" opacity="0.55"/>
<circle cx="1169.50" cy="930.00" r="3.5" fill="#e9f1f8" stroke="#fff" stroke-width="2" opacity="0.55"/>
<circle cx="1221.72" cy="930.00" r="3.5" fill="#e9f1f8" stroke="#fff" stroke-width="2" opacity="0.55"/>
<circle cx="1273.94" cy="930.00" r="3.5" fill="#e9f1f8" stroke="#fff" stroke-width="2" opacity="0.55"/>
<circle cx="1326.16" cy="930.00" r="3.5" fill="#e9f1f8" stroke="#fff" stroke-width="2" opacity="0.55"/>
<circle cx="1378.38" cy="930.00" r="3.5" fill="#e9f1f8" stroke="#fff" stroke-width="2" opacity="0.55"/>
<circle cx="1430.60" cy="930.00" r="3.5" fill="#e9f1f8" stroke="#fff" stroke-width="2" opacity="0.55"/>
<circle cx="1482.82" cy="930.00" r="3.5" fill="#e9f1f8" stroke="#fff" stroke-width="2" opacity="0.55"/>
<circle cx="1535.04" cy="930.00" r="3.5" fill="#e9f1f8" stroke="#fff" stroke-width="2" opacity="0.55"/>
<circle cx="1587.26" cy="930.00" r="3.5" fill="#e9f1f8" stroke="#fff" stroke-width="2" opacity="0.55"/>
<circle cx="1639.48" cy="930.00" r="3.5" fill="#e9f1f8" stroke="#fff" stroke-width="2" opacity="0.55"/>
<path d="M125.10,930.00 C132.41,930.00 162.70,930.00 177.32,930.00 C191.94,930.00 214.92,930.00 229.54,930.00 C244.16,930.00 267.14,930.00 281.76,930.00 C296.38,930.00 319.36,930.00 333.98,930.00 C348.60,930.00 371.58,930.00 386.20,930.00 C400.82,930.00 423.80,930.00 438.42,930.00 C453.04,930.00 476.02,930.00 490.64,930.00 C505.26,930.00 528.24,930.00 542.86,930.00 C557.48,930.00 580.46,930.00 595.08,930.00 C609.70,930.00 632.68,930.00 647.30,930.00 C661.92,930.00 684.90,930.00 699.52,930.00 C714.14,930.00 737.12,930.00 751.74,930.00 C766.36,930.00 789.34,930.00 803.96,930.00 C818.58,930.00 841.56,930.00 856.18,930.00 C870.80,930.00 893.78,930.00 908.40,930.00 C923.02,930.00 946.00,930.00 960.62,930.00 C975.24,930.00 998.22,930.00 1012.84,930.00 C1027.46,930.00 1050.44,930.00 1065.06,930.00 C1079.68,930.00 1102.66,930.00 1117.28,930.00 C1131.90,930.00 1154.88,930.00 1169.50,930.00 C1184.12,930.00 1207.10,930.00 1221.72,930.00 C1236.34,930.00 1259.32,930.00 1273.94,930.00 C1288.56,930.00 1311.54,930.00 1326.16,930.00 C1340.78,930.00 1363.76,930.00 1378.38,930.00 C1393.00,930.00 1415.98,930.00 1430.60,930.00 C1445.22,930.00 1468.20,930.00 1482.82,930.00 C1497.44,930.00 1520.42,930.00 1535.04,930.00 C1549.66,930.00 1572.64,930.00 1587.26,930.00 C1601.88,930.00 1632.17,930.00 1639.48,930.00 L1639.48,930.00 L125.10,930.00 Z" fill="#62b8a8" fill-opacity="0.2" stroke="none"/>
<path d="M125.10,930.00 C132.41,930.00 162.70,930.00 177.32,930.00 C191.94,930.00 214.92,930.00 229.54,930.00 C244.16,930.00 267.14,930.00 281.76,930.00 C296.38,930.00 319.36,930.00 333.98,930.00 C348.60,930.00 371.58,930.00 386.20,930.00 C400.82,930.00 423.80,930.00 438.42,930.00 C453.04,930.00 476.02,930.00 490.64,930.00 C505.26,930.00 528.24,930.00 542.86,930.00 C557.48,930.00 580.46,930.00 595.08,930.00 C609.70,930.00 632.68,930.00 647.30,930.00 C661.92,930.00 684.90,930.00 699.52,930.00 C714.14,930.00 737.12,930.00 751.74,930.00 C766.36,930.00 789.34,930.00 803.96,930.00 C818.58,930.00 841.56,930.00 856.18,930.00 C870.80,930.00 893.78,930.00 908.40,930.00 C923.02,930.00 946.00,930.00 960.62,930.00 C975.24,930.00 998.22,930.00 1012.84,930.00 C1027.46,930.00 1050.44,930.00 1065.06,930.00 C1079.68,930.00 1102.66,930.00 1117.28,930.00 C1131.90,930.00 1154.88,930.00 1169.50,930.00 C1184.12,930.00 1207.10,930.00 1221.72,930.00 C1236.34,930.00 1259.32,930.00 1273.94,930.00 C1288.56,930.00 1311.54,930.00 1326.16,930.00 C1340.78,930.00 1363.76,930.00 1378.38,930.00 C1393.00,930.00 1415.98,930.00 1430.60,930.00 C1445.22,930.00 1468.20,930.00 1482.82,930.00 C1497.44,930.00 1520.42,930.00 1535.04,930.00 C1549.66,930.00 1572.64,930.00 1587.26,930.00 C1601.88,930.00 1632.17,930.00 1639.48,930.00" fill="none" stroke="#62b8a8" stroke-width="2" stroke-linejoin="round"/>
<path d="M125.10,930.00 C132.41,930.00 162.70,930.00 177.32,930.00 C191.94,930.00 214.92,930.00 229.54,930.00 C244.16,930.00 267.14,937.06 281.76,930.00 C296.38,922.94 319.36,915.29 333.98,879.60 C348.60,843.91 371.58,668.00 386.20,675.06 C400.82,682.12 423.80,894.59 438.42,930.00 C453.04,965.41 476.02,927.98 490.64,927.98 C505.26,927.98 528.24,929.72 542.86,930.00 C557.48,930.28 580.46,930.06 595.08,930.00 C609.70,929.94 632.68,929.58 647.30,929.58 C661.92,929.58 684.90,929.97 699.52,930.00 C714.14,930.03 737.12,930.29 751.74,929.79 C766.36,929.29 789.34,926.40 803.96,926.43 C818.58,926.46 841.56,929.50 856.18,930.00 C870.80,930.50 893.78,930.02 908.40,930.00 C923.02,929.98 946.00,929.87 960.62,929.87 C975.24,929.87 998.22,929.98 1012.84,930.00 C1027.46,930.02 1050.44,930.04 1065.06,930.00 C1079.68,929.96 1102.66,929.78 1117.28,929.75 C1131.90,929.72 1154.88,929.75 1169.50,929.79 C1184.12,929.83 1207.10,929.99 1221.72,930.00 C1236.34,930.01 1259.32,929.89 1273.94,929.87 C1288.56,929.86 1311.54,929.90 1326.16,929.92 C1340.78,929.93 1363.76,929.99 1378.38,930.00 C1393.00,930.01 1415.98,930.02 1430.60,930.00 C1445.22,929.98 1468.20,929.99 1482.82,929.87 C1497.44,929.76 1520.42,929.47 1535.04,929.16 C1549.66,928.85 1572.64,927.62 1587.26,927.69 C1601.88,927.76 1632.17,929.39 1639.48,929.66 L1639.48,930.00 L125.10,930.00 Z" fill="#8237e1" fill-opacity="0.2" stroke="none"/>
<path d="M125.10,930.00 C132.41,930.00 162.70,930.00 177.32,930.00 C191.94,930.00 214.92,930.00 229.54,930.00 C244.16,930.00 267.14,937.06 281.76,930.00 C296.38,922.94 319.36,915.29 333.98,879.60 C348.60,843.91 371.58,668.00 386.20,675.06 C400.82,682.12 423.80,894.59 438.42,930.00 C453.04,965.41 476.02,927.98 490.64,927.98 C505.26,927.98 528.24,929.72 542.86,930.00 C557.48,930.28 580.46,930.06 595.08,930.00 C609.70,929.94 632.68,929.58 647.30,929.58 C661.92,929.58 684.90,929.97 699.52,930.00 C714.14,930.03 737.12,930.29 751.74,929.79 C766.36,929.29 789.34,926.40 803.96,926.43 C818.58,926.46 841.56,929.50 856.18,930.00 C870.80,930.50 893.78,930.02 908.40,930.00 C923.02,929.98 946.00,929.87 960.62,929.87 C975.24,929.87 998.22,929.98 1012.84,930.00 C1027.46,930.02 1050.44,930.04 1065.06,930.00 C1079.68,929.96 1102.66,929.78 1117.28,929.75 C1131.90,929.72 1154.88,929.75 1169.50,929.79 C1184.12,929.83 1207.10,929.99 1221.72,930.00 C1236.34,930.01 1259.32,929.89 1273.94,929.87 C1288.56,929.86 1311.54,929.90 1326.16,929.92 C1340.78,929.93 1363.76,929.99 1378.38,930.00 C1393.00,930.01 1415.98,930.02 1430.60,930.00 C1445.22,929.98 1468.20,929.99 1482.82,929.87 C1497.44,929.76 1520.42,929.47 1535.04,929.16 C1549.66,928.85 1572.64,927.62 1587.26,927.69 C1601.88,927.76 1632.17,929.39 1639.48,929.66" fill="none" stroke="#8237e1" stroke-width="2" stroke-linejoin="round"/>
<circle cx="125.10" cy="930.00" r="3.5" fill="#8237e1" stroke="#fff" stroke-width="2"/>
<circle cx="177.32" cy="930.00" r="3.5" fill="#8237e1" stroke="#fff" stroke-width="2"/>
<circle cx="229.54" cy="930.00" r="3.5" fill="#8237e1" stroke="#fff" stroke-width="2"/>
<circle cx="281.76" cy="930.00" r="3.5" fill="#8237e1" stroke="#fff" stroke-width="2"/>
<circle cx="333.98" cy="879.60" r="3.5" fill="#8237e1" stroke="#fff" stroke-width="2"/>
<circle cx="386.20" cy="675.06" r="3.5" fill="#8237e1" stroke="#fff" stroke-width="2"/>
<circle cx="438.42" cy="930.00" r="3.5" fill="#8237e1" stroke="#fff" stroke-width="2"/>
<circle cx="490.64" cy="927.98" r="3.5" fill="#8237e1" stroke="#fff" stroke-width="2"/>
<circle cx="542.86" cy="930.00" r="3.5" fill="#8237e1" stroke="#fff" stroke-width="2"/>
<circle cx="595.08" cy="930.00" r="3.5" fill="#8237e1" stroke="#fff" stroke-width="2"/>
<circle cx="647.30" cy="929.58" r="3.5" fill="#8237e1" stroke="#fff" stroke-width="2"/>
<circle cx="699.52" cy="930.00" r="3.5" fill="#8237e1" stroke="#fff" stroke-width="2"/>
<circle cx="751.74" cy="929.79" r="3.5" fill="#8237e1" stroke="#fff" stroke-width="2"/>
<circle cx="803.96" cy="926.43" r="3.5" fill="#8237e1" stroke="#fff" stroke-width="2"/>
<circle cx="856.18" cy="930.00" r="3.5" fill="#8237e1" stroke="#fff" stroke-width="2"/>
<circle cx="908.40" cy="930.00" r="3.5" fill="#8237e1" stroke="#fff" stroke-width="2"/>
<circle cx="960.62" cy="929.87" r="3.5" fill="#8237e1" stroke="#fff" stroke-width="2"/>
<circle cx="1012.84" cy="930.00" r="3.5" fill="#8237e1" stroke="#fff" stroke-width="2"/>
<circle cx="1065.06" cy="930.00" r="3.5" fill="#8237e1" stroke="#fff" stroke-width="2"/>
<circle cx="1117.28" cy="929.75" r="3.5" fill="#8237e1" stroke="#fff" stroke-width="2"/>
<circle cx="1169.50" cy="929.79" r="3.5" fill="#8237e1" stroke="#fff" stroke-width="2"/>
<circle cx="1221.72" cy="930.00" r="3.5" fill="#8237e1" stroke="#fff" stroke-width="2"/>
<circle cx="1273.94" cy="929.87" r="3.5" fill="#8237e1" stroke="#fff" stroke-width="2"/>
<circle cx="1326.16" cy="929.92" r="3.5" fill="#8237e1" stroke="#fff" stroke-width="2"/>
<circle cx="1378.38" cy="930.00" r="3.5" fill="#8237e1" stroke="#fff" stroke-width="2"/>
<circle cx="1430.60" cy="930.00" r="3.5" fill="#8237e1" stroke="#fff" stroke-width="2"/>
<circle cx="1482.82" cy="929.87" r="3.5" fill="#8237e1" stroke="#fff" stroke-width="2"/>
<circle cx="1535.04" cy="929.16" r="3.5" fill="#8237e1" stroke="#fff" stroke-width="2"/>
<circle cx="1587.26" cy="927.69" r="3.5" fill="#8237e1" stroke="#fff" stroke-width="2"/>
<circle cx="1639.48" cy="929.66" r="3.5" fill="#8237e1" stroke="#fff" stroke-width="2"/>
</g>
</svg>
<span id="title" class="t" style="left:109.73px;top:19.00px;font-size:22.3px;font-weight:normal;color:#262a2e;letter-spacing:0.899px;-webkit-text-stroke:0.70px #262a2e;">acsy / Umbrella</span>
<span id="nav0" class="t" style="left:35.50px;top:72.00px;font-size:14px;font-weight:normal;color:#3b3f43;letter-spacing:0.585px;-webkit-text-stroke:0.25px #3b3f43;">Dashboard</span>
<span id="nav1" class="t" style="left:133.09px;top:72.00px;font-size:14px;font-weight:normal;color:#3b3f43;letter-spacing:0.191px;-webkit-text-stroke:0.25px #3b3f43;">Sources</span>
<span id="nav2" class="t" style="left:210.88px;top:72.00px;font-size:14px;font-weight:normal;color:#3b3f43;letter-spacing:0.443px;-webkit-text-stroke:0.25px #3b3f43;">Translations</span>
<span id="nav3" class="t" style="left:314.75px;top:72.00px;font-size:14px;font-weight:normal;color:#3b3f43;letter-spacing:0.370px;-webkit-text-stroke:0.25px #3b3f43;">Screenshots</span>
<span id="nav4" class="t" style="left:420.50px;top:72.00px;font-size:14px;font-weight:normal;color:#3b3f43;letter-spacing:0.000px;-webkit-text-stroke:0.25px #3b3f43;">Tasks</span>
<span id="nav5" class="t" style="left:480.51px;top:72.00px;font-size:14px;font-weight:normal;color:#3b3f43;letter-spacing:0.877px;-webkit-text-stroke:0.25px #3b3f43;">Members</span>
<span id="nav6" class="t" style="left:568.00px;top:72.00px;font-size:14px;font-weight:normal;color:#3b3f43;letter-spacing:0.840px;-webkit-text-stroke:0.25px #3b3f43;">Integrations</span>
<span id="nav7" class="t" style="left:674.67px;top:72.00px;font-size:14px;font-weight:normal;color:#26292c;letter-spacing:0.518px;-webkit-text-stroke:0.45px #26292c;">Reports</span>
<span id="nav8" class="t" style="left:751.55px;top:72.00px;font-size:14px;font-weight:normal;color:#3b3f43;letter-spacing:0.571px;-webkit-text-stroke:0.25px #3b3f43;">Activity</span>
<span id="nav9" class="t" style="left:824.50px;top:72.00px;font-size:14px;font-weight:normal;color:#3b3f43;letter-spacing:0.289px;-webkit-text-stroke:0.25px #3b3f43;">Discussions</span>
<span id="nav10" class="t" style="left:927.30px;top:72.00px;font-size:14px;font-weight:normal;color:#3b3f43;letter-spacing:0.189px;-webkit-text-stroke:0.25px #3b3f43;">Tools</span>
<span id="nav11" class="t" style="left:984.83px;top:72.00px;font-size:14px;font-weight:normal;color:#3b3f43;letter-spacing:0.560px;-webkit-text-stroke:0.25px #3b3f43;">Settings</span>
<span id="sub0" class="t" style="left:39.66px;top:132.00px;font-size:15.6px;font-weight:normal;color:#57b45c;letter-spacing:0.633px;-webkit-text-stroke:0.15px #57b45c;">Overview</span>
<span id="sub1" class="t" style="left:149.63px;top:132.00px;font-size:15.6px;font-weight:normal;color:#3b3f43;letter-spacing:0.471px;-webkit-text-stroke:0.15px #3b3f43;">Cost Estimate</span>
<span id="sub2" class="t" style="left:293.11px;top:132.00px;font-size:15.6px;font-weight:normal;color:#3b3f43;letter-spacing:0.445px;-webkit-text-stroke:0.15px #3b3f43;">Translation Cost</span>
<span id="sub3" class="t" style="left:453.82px;top:132.00px;font-size:15.6px;font-weight:normal;color:#3b3f43;letter-spacing:0.454px;-webkit-text-stroke:0.15px #3b3f43;">Time Spent</span>
<span id="sub4" class="t" style="left:577.90px;top:132.00px;font-size:15.6px;font-weight:normal;color:#3b3f43;letter-spacing:0.582px;-webkit-text-stroke:0.15px #3b3f43;">Pre-translation Accuracy</span>
<span id="sub5" class="t" style="left:800.21px;top:132.00px;font-size:15.6px;font-weight:normal;color:#3b3f43;letter-spacing:0.529px;-webkit-text-stroke:0.15px #3b3f43;">Translator Accuracy</span>
<span id="sub6" class="t" style="left:987.95px;top:132.00px;font-size:15.6px;font-weight:normal;color:#3b3f43;letter-spacing:0.769px;-webkit-text-stroke:0.15px #3b3f43;">Top Members</span>
<span id="sub7" class="t" style="left:1129.89px;top:132.00px;font-size:15.6px;font-weight:normal;color:#3b3f43;letter-spacing:0.504px;-webkit-text-stroke:0.15px #3b3f43;">Archive</span>
<span id="search" class="t" style="left:1275.07px;top:21.00px;font-size:16px;font-weight:normal;color:#b6b6b6;letter-spacing:0.339px;">Search projects</span>
<span id="words" class="t" style="left:1517.86px;top:132.00px;font-size:15.6px;font-weight:normal;color:#3b3f43;letter-spacing:0.767px;-webkit-text-stroke:0.15px #3b3f43;">Words</span>
<span id="sl0" class="t" style="left:49.93px;top:220.00px;font-size:13px;font-weight:normal;color:#828282;letter-spacing:0.411px;-webkit-text-stroke:0.15px #828282;">Translatable</span>
<span id="sv0" class="t" style="left:49.69px;top:242.00px;font-size:20.4px;font-weight:normal;color:#3c4043;letter-spacing:0.273px;-webkit-text-stroke:0.55px #3c4043;">100,614 words</span>
<span id="ss0" class="t" style="left:48.94px;top:270.00px;font-size:12px;font-weight:normal;color:#828282;letter-spacing:0.281px;">10,569 words in duplicates</span>
<span id="sl1" class="t" style="left:271.00px;top:220.00px;font-size:13px;font-weight:normal;color:#828282;letter-spacing:0.759px;-webkit-text-stroke:0.15px #828282;">Hidden</span>
<span id="sv1" class="t" style="left:271.03px;top:242.00px;font-size:20.4px;font-weight:normal;color:#3c4043;letter-spacing:0.288px;-webkit-text-stroke:0.55px #3c4043;">1,192 words</span>
<span id="ss1" class="t" style="left:271.25px;top:270.00px;font-size:12px;font-weight:normal;color:#828282;letter-spacing:0.306px;">773 words in duplicates</span>
<span id="sl2" class="t" style="left:476.29px;top:220.00px;font-size:13px;font-weight:normal;color:#828282;letter-spacing:0.459px;-webkit-text-stroke:0.15px #828282;">Total</span>
<span id="sv2" class="t" style="left:476.03px;top:242.00px;font-size:20.4px;font-weight:normal;color:#3c4043;letter-spacing:0.262px;-webkit-text-stroke:0.55px #3c4043;">101,806 words</span>
<span id="sl3" class="t" style="left:685.97px;top:220.00px;font-size:13px;font-weight:normal;color:#828282;letter-spacing:0.521px;-webkit-text-stroke:0.15px #828282;">Translation to</span>
<span id="sv3" class="t" style="left:686.02px;top:242.00px;font-size:20.4px;font-weight:normal;color:#3c4043;letter-spacing:0.365px;-webkit-text-stroke:0.55px #3c4043;">48 languages</span>
<span id="acthead" class="t" style="left:49.90px;top:342.00px;font-size:19.5px;font-weight:normal;color:#23272b;letter-spacing:0.604px;-webkit-text-stroke:0.80px #23272b;">Activity Summary: Jan 4 – Feb 2, 2026</span>
<span id="export" class="t" style="left:1524.19px;top:344.00px;font-size:14.5px;font-weight:normal;color:#3b3f43;letter-spacing:0.313px;-webkit-text-stroke:0.25px #3b3f43;">Export</span>
<span id="transl" class="t" style="left:50.11px;top:407.00px;font-size:15.5px;font-weight:normal;color:#23272b;letter-spacing:0.638px;-webkit-text-stroke:0.40px #23272b;">Translation</span>
<span id="tl0" class="t" style="left:49.98px;top:438.00px;font-size:13px;font-weight:normal;color:#828282;letter-spacing:0.452px;-webkit-text-stroke:0.15px #828282;">Total (end of period)</span>
<span id="tv0" class="t" style="left:49.24px;top:458.00px;font-size:20.4px;font-weight:normal;color:#3c4043;letter-spacing:0.262px;-webkit-text-stroke:0.55px #3c4043;">135,941 words</span>
<span id="tp0" class="t" style="left:68.03px;top:487.00px;font-size:14px;font-weight:normal;color:#35b785;letter-spacing:-0.175px;-webkit-text-stroke:0.10px #35b785;">338%</span>
<span id="tq0" class="t" style="left:114.50px;top:489.00px;font-size:12px;font-weight:normal;color:#7a7a7a;letter-spacing:0.248px;">Previous period: 31,014 words</span>
<span id="tl1" class="t" style="left:356.00px;top:438.00px;font-size:13px;font-weight:normal;color:#828282;letter-spacing:0.565px;-webkit-text-stroke:0.15px #828282;">Human Translation</span>
<span id="tv1" class="t" style="left:357.06px;top:458.00px;font-size:20.4px;font-weight:normal;color:#3c4043;letter-spacing:0.293px;-webkit-text-stroke:0.55px #3c4043;">56,076 words</span>
<span id="tp1" class="t" style="left:376.36px;top:487.00px;font-size:14px;font-weight:normal;color:#35b785;letter-spacing:-0.451px;-webkit-text-stroke:0.10px #35b785;">108%</span>
<span id="tq1" class="t" style="left:421.50px;top:489.00px;font-size:12px;font-weight:normal;color:#7a7a7a;letter-spacing:0.248px;">Previous period: 26,970 words</span>
<span id="tl2" class="t" style="left:664.73px;top:438.00px;font-size:13px;font-weight:normal;color:#828282;letter-spacing:0.538px;-webkit-text-stroke:0.15px #828282;">Translation Memory</span>
<span id="tv2" class="t" style="left:664.03px;top:458.00px;font-size:20.4px;font-weight:normal;color:#3c4043;letter-spacing:0.288px;-webkit-text-stroke:0.55px #3c4043;">1,610 words</span>
<span id="tp2" class="t" style="left:683.42px;top:487.00px;font-size:14px;font-weight:normal;color:#35b785;letter-spacing:-0.415px;-webkit-text-stroke:0.10px #35b785;">477%</span>
<span id="tq2" class="t" style="left:729.50px;top:489.00px;font-size:12px;font-weight:normal;color:#7a7a7a;letter-spacing:0.262px;">Previous period: 279 words</span>
<span id="tl3" class="t" style="left:953.86px;top:438.00px;font-size:13px;font-weight:normal;color:#828282;letter-spacing:0.501px;-webkit-text-stroke:0.15px #828282;">Machine Translation</span>
<span id="tv3" class="t" style="left:954.62px;top:458.00px;font-size:20.4px;font-weight:normal;color:#3c4043;letter-spacing:0.279px;-webkit-text-stroke:0.55px #3c4043;">2,205 words</span>
<span id="tp3" class="t" style="left:973.90px;top:487.00px;font-size:14px;font-weight:normal;color:#35b785;letter-spacing:-0.371px;-webkit-text-stroke:0.10px #35b785;">514%</span>
<span id="tq3" class="t" style="left:1019.34px;top:489.00px;font-size:12px;font-weight:normal;color:#7a7a7a;letter-spacing:0.289px;">Previous period: 359 words</span>
<span id="tl4" class="t" style="left:1244.50px;top:438.00px;font-size:13px;font-weight:normal;color:#828282;letter-spacing:0.000px;-webkit-text-stroke:0.15px #828282;">AI</span>
<span id="tv4" class="t" style="left:1244.72px;top:458.00px;font-size:20.4px;font-weight:normal;color:#3c4043;letter-spacing:0.301px;-webkit-text-stroke:0.55px #3c4043;">76,050 words</span>
<span id="tp4" class="t" style="left:1263.17px;top:487.00px;font-size:14px;font-weight:normal;color:#35b785;letter-spacing:-0.186px;-webkit-text-stroke:0.10px #35b785;">2133%</span>
<span id="tq4" class="t" style="left:1318.00px;top:489.00px;font-size:12px;font-weight:normal;color:#7a7a7a;letter-spacing:0.252px;">Previous period: 3,406 words</span>
<span id="breakdown" class="t" style="left:70.02px;top:566.00px;font-size:16.5px;font-weight:normal;color:#3c4043;letter-spacing:0.312px;-webkit-text-stroke:0.30px #3c4043;">Breakdown by Language</span>
</body></html>
